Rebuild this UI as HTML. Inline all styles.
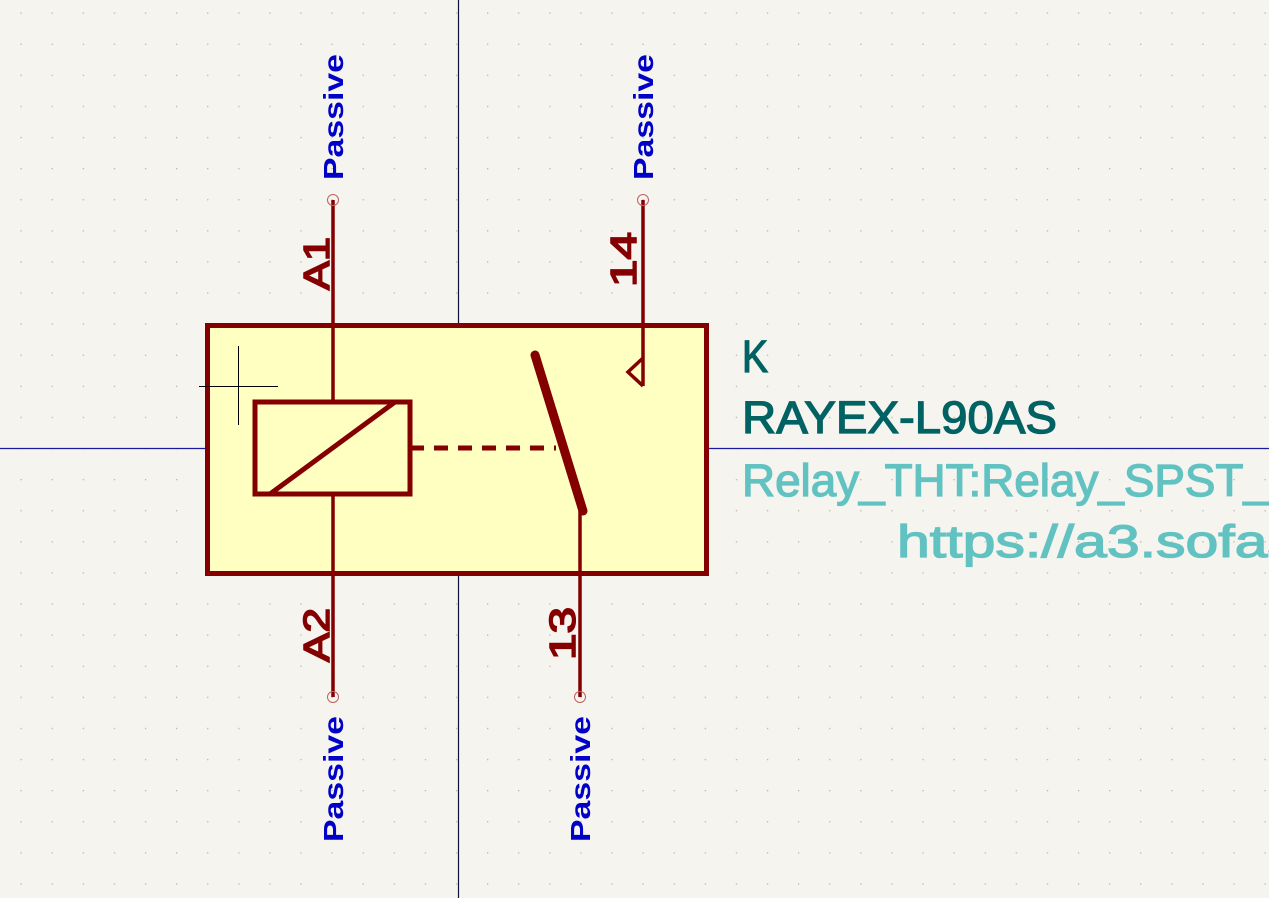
<!DOCTYPE html>
<html><head><meta charset="utf-8"><style>
html,body{margin:0;padding:0;background:#f5f4ef;overflow:hidden}
svg{display:block}
text{font-family:"Liberation Sans","DejaVu Sans",sans-serif}
</style></head><body>
<svg width="1269" height="898" viewBox="0 0 1269 898">
<defs>
<pattern id="grid" x="20.5" y="12.5" width="31.1" height="31.1" patternUnits="userSpaceOnUse">
<rect x="0" y="0" width="1.3" height="1.3" fill="#b8b6b0"/>
</pattern>
</defs>
<rect width="1269" height="898" fill="#f5f4ef"/>
<rect width="1269" height="898" fill="url(#grid)"/>
<line x1="0" y1="448.5" x2="1269" y2="448.5" stroke="#1a1aa0" stroke-width="1.2"/>
<line x1="458.5" y1="0" x2="458.5" y2="898" stroke="#101040" stroke-width="1.2"/>
<g>
<rect x="207.5" y="325.5" width="499" height="248" fill="#ffffc2" stroke="#840000" stroke-width="5"/>
<line x1="199" y1="386.5" x2="278" y2="386.5" stroke="#000" stroke-width="1"/>
<line x1="238.5" y1="346" x2="238.5" y2="425" stroke="#000" stroke-width="1"/>
<g stroke="#840000" fill="none">
<line x1="333" y1="200" x2="333" y2="402" stroke-width="3.5"/>
<line x1="333" y1="494" x2="333" y2="697" stroke-width="3.5"/>
<line x1="643" y1="200" x2="643" y2="386" stroke-width="3.5"/>
<line x1="580" y1="510" x2="580" y2="697" stroke-width="3.5"/>
<rect x="255" y="402" width="155" height="92" stroke-width="5"/>
<line x1="270" y1="494" x2="395" y2="402" stroke-width="5"/>
<line x1="410" y1="448" x2="556" y2="448" stroke-width="5" stroke-dasharray="14,10"/>
<line x1="535" y1="355" x2="583" y2="511" stroke-width="9" stroke-linecap="round"/>
<polyline points="643,358 628,372 643,386" stroke-width="3.5"/>
<circle cx="333" cy="200" r="5.5" stroke-width="1" stroke="#c06060"/>
<circle cx="643" cy="200" r="5.5" stroke-width="1" stroke="#c06060"/>
<circle cx="333" cy="697" r="5.5" stroke-width="1" stroke="#c06060"/>
<circle cx="580" cy="697" r="5.5" stroke-width="1" stroke="#c06060"/>
</g>
<g fill="#840000" stroke="#840000" stroke-width="1.6" font-size="36">
<text transform="translate(329,290) rotate(-90)" textLength="53" lengthAdjust="spacingAndGlyphs">A1</text>
<text transform="translate(636,287) rotate(-90)" textLength="55" lengthAdjust="spacingAndGlyphs">14</text>
<text transform="translate(329,662) rotate(-90)" textLength="54" lengthAdjust="spacingAndGlyphs">A2</text>
<text transform="translate(575,660) rotate(-90)" textLength="53" lengthAdjust="spacingAndGlyphs">13</text>
</g>
<g fill="#0000c8" font-size="28" font-weight="bold">
<text transform="translate(343,180) rotate(-90)" textLength="126" lengthAdjust="spacingAndGlyphs">Passive</text>
<text transform="translate(653,180) rotate(-90)" textLength="126" lengthAdjust="spacingAndGlyphs">Passive</text>
<text transform="translate(343,842) rotate(-90)" textLength="126" lengthAdjust="spacingAndGlyphs">Passive</text>
<text transform="translate(590,842) rotate(-90)" textLength="126" lengthAdjust="spacingAndGlyphs">Passive</text>
</g>
</g>
<g font-size="45" stroke-width="1.3">
<text x="742" y="372" fill="#006262" stroke="#006262" textLength="26" lengthAdjust="spacingAndGlyphs">K</text>
<text x="742" y="433" fill="#006262" stroke="#006262" textLength="315" lengthAdjust="spacingAndGlyphs">RAYEX-L90AS</text>
<text x="742" y="496" fill="#62c2c2" stroke="#62c2c2" textLength="560" lengthAdjust="spacingAndGlyphs">Relay_THT:Relay_SPST_R</text>
<text x="897" y="557" fill="#62c2c2" stroke="#62c2c2" textLength="400" lengthAdjust="spacingAndGlyphs">https://a3.sofas</text>
</g>
</svg>
</body></html>
